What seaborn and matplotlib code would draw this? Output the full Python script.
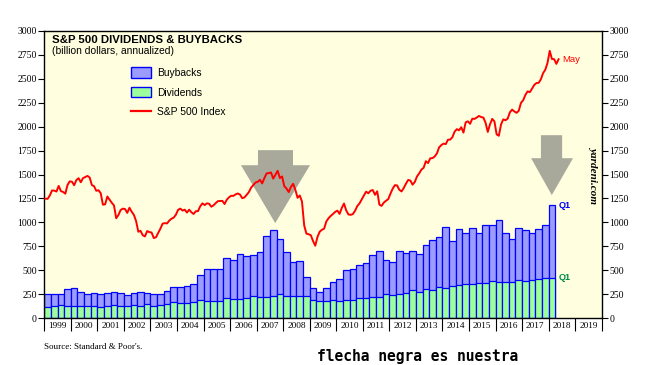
import numpy as np
import pandas as pd
import matplotlib
matplotlib.use("Agg")
import matplotlib.pyplot as plt
import seaborn as sns
from matplotlib.patches import Polygon, Patch
from matplotlib.lines import Line2D

# ---------------- data ----------------
first_year = 1999
# quarterly, 1999Q1 .. 2018Q1 (billion dollars, annualized)
dividends = [
    118, 128, 139, 128,   # 1999
    128, 128, 128, 128,   # 2000
    118, 128, 139, 128,   # 2001
    128, 139, 128, 149,   # 2002
    128, 139, 149, 170,   # 2003
    160, 160, 170, 191,   # 2004
    181, 181, 181, 212,   # 2005
    201, 201, 212, 233,   # 2006
    222, 222, 233, 253,   # 2007
    233, 233, 233, 233,   # 2008
    191, 181, 181, 191,   # 2009
    181, 194, 194, 212,   # 2010
    212, 222, 222, 253,   # 2011
    243, 253, 264, 295,   # 2012
    274, 306, 295, 326,   # 2013
    316, 337, 347, 358,   # 2014
    358, 368, 368, 389,   # 2015
    378, 378, 378, 399,   # 2016
    389, 399, 410, 420,   # 2017
    420,                  # 2018Q1
]
buybacks = [
    135, 125, 114, 181,   # 1999
    191, 146, 125, 136,   # 2000
    135, 136, 135, 136,   # 2001
    115, 125, 146, 115,   # 2002
    125, 114, 136, 156,   # 2003
    166, 177, 188, 260,   # 2004
    333, 333, 333, 420,   # 2005
    410, 473, 437, 430,   # 2006
    472, 639, 691, 577,   # 2007
    461, 357, 368, 198,   # 2008
    125, 93, 135, 187,    # 2009
    232, 313, 323, 344,   # 2010
    368, 438, 479, 358,   # 2011
    347, 448, 420, 406,   # 2012
    400, 461, 524, 525,   # 2013
    639, 472, 587, 534,   # 2014
    586, 524, 608, 587,   # 2015
    650, 514, 452, 545,   # 2016
    535, 493, 524, 556,   # 2017
    764,                  # 2018Q1
]
# S&P 500 index, monthly, Jan 1999 .. May 2018
sp500 = [
    1248, 1246, 1282, 1334, 1332, 1322, 1381, 1327, 1318, 1300, 1391, 1428,
    1425, 1388, 1442, 1461, 1419, 1462, 1473, 1485, 1469, 1390, 1378, 1330,
    1336, 1305, 1185, 1189, 1270, 1238, 1205, 1178, 1044, 1077, 1129, 1144,
    1140, 1100, 1153, 1112, 1079, 1014, 903, 912, 867, 854, 910, 899,
    895, 837, 846, 890, 936, 988, 992, 990, 1019, 1039, 1050, 1081,
    1132, 1144, 1124, 1133, 1103, 1133, 1106, 1088, 1117, 1118, 1169, 1199,
    1181, 1199, 1195, 1164, 1178, 1202, 1222, 1224, 1225, 1192, 1237, 1262,
    1278, 1277, 1293, 1302, 1290, 1253, 1261, 1288, 1317, 1363, 1389, 1416,
    1424, 1444, 1407, 1463, 1511, 1515, 1521, 1457, 1497, 1539, 1463, 1479,
    1378, 1354, 1317, 1371, 1403, 1341, 1257, 1281, 1217, 968, 883, 877,
    866, 806, 757, 848, 903, 923, 935, 1009, 1044, 1068, 1088, 1110,
    1123, 1089, 1152, 1197, 1125, 1083, 1079, 1087, 1122, 1171, 1198, 1241,
    1282, 1321, 1304, 1331, 1338, 1288, 1325, 1185, 1173, 1207, 1226, 1243,
    1300, 1352, 1389, 1386, 1341, 1323, 1359, 1404, 1443, 1437, 1394, 1422,
    1480, 1512, 1551, 1570, 1639, 1619, 1669, 1671, 1688, 1720, 1783, 1807,
    1822, 1817, 1863, 1864, 1889, 1947, 1973, 1961, 1993, 1937, 2044, 2055,
    2029, 2082, 2080, 2094, 2111, 2099, 2094, 2039, 1944, 2024, 2080, 2054,
    1919, 1904, 2022, 2075, 2066, 2083, 2149, 2177, 2158, 2143, 2165, 2247,
    2275, 2330, 2367, 2359, 2395, 2434, 2454, 2456, 2493, 2557, 2593, 2664,
    2790, 2705, 2703, 2654, 2702,
]
year_labels = [str(y) for y in range(1999, 2020)]
y_ticks = list(range(0, 3001, 250))

# decorative arrows: (shaft_left, shaft_right, shaft_top, head_left, head_right, head_base, tip_x, tip_y)
arrow_1 = (2007.05, 2008.37, 1754, 2006.41, 2009.01, 1597, 2007.70, 993)
arrow_2 = (2017.71, 2018.51, 1910, 2017.34, 2018.92, 1670, 2018.12, 1285)

# ---------------- figure ----------------
plt.rcParams["font.family"] = ["Liberation Sans", "DejaVu Sans"]

BUY_C = "#9C9CFF"
DIV_C = "#9CFF9C"
EDGE_C = "#0000FF"
BG_C = "#FFFFE0"

fig = plt.figure(figsize=(6.45, 3.65), dpi=100)
ax = fig.add_axes([44.3 / 645, 1 - 318.3 / 365, (601.7 - 44.3) / 645, (318.3 - 30.7) / 365])
ax.set_facecolor(BG_C)

n = len(dividends)
xpos = [first_year + i * 0.25 + 0.125 for i in range(n)]
df = pd.DataFrame({
    "x": xpos,
    "dividends": dividends,
    "total": np.array(dividends) + np.array(buybacks),
})

sns.barplot(data=df, x="x", y="total", native_scale=True, width=1, color=BUY_C,
            saturation=1, edgecolor=EDGE_C, linewidth=0.9, errorbar=None, ax=ax, zorder=2)
sns.barplot(data=df, x="x", y="dividends", native_scale=True, width=1, color=DIV_C,
            saturation=1, edgecolor=EDGE_C, linewidth=0.9, errorbar=None, ax=ax, zorder=2)

sp_df = pd.DataFrame({
    "x": [first_year + (i + 0.5) / 12 for i in range(len(sp500))],
    "sp": sp500,
})
sns.lineplot(data=sp_df, x="x", y="sp", color="#FF0000", linewidth=1.4, ax=ax, zorder=4)

for a in (arrow_1, arrow_2):
    sl, sr, st, hl, hr, hb, tx, ty = a
    poly = Polygon([(sl, st), (sr, st), (sr, hb), (hr, hb), (tx, ty), (hl, hb), (sl, hb)],
                   closed=True, facecolor="#A9A99B", edgecolor="none", zorder=3)
    ax.add_patch(poly)

ax.set_xlim(1999, 2020)
ax.set_ylim(0, 3000)
ax.set_xlabel("")
ax.set_ylabel("")

ax.set_xticks(np.arange(1999, 2021))
ax.set_xticklabels([])
ax.set_xticks(np.arange(1999, 2020) + 0.5, minor=True)
ax.set_xticklabels(year_labels, minor=True)
ax.tick_params(axis="x", which="major", length=9, width=0.8, direction="out", color="black")
ax.tick_params(axis="x", which="minor", length=0, pad=2.5, labelsize=6.7,
               labelfontfamily="Liberation Serif")

ax.set_yticks(y_ticks)
ax.set_yticklabels([str(v) for v in y_ticks])
ax.tick_params(axis="y", left=True, right=True, labelleft=True, labelright=True,
               length=4, width=0.8, direction="out", pad=1.5, labelsize=7,
               labelfontfamily="Liberation Serif", color="black")

for s in ax.spines.values():
    s.set_color("black")
    s.set_linewidth(1.0)

handles = [
    Patch(facecolor=BUY_C, edgecolor=EDGE_C, label="Buybacks"),
    Patch(facecolor=DIV_C, edgecolor=EDGE_C, label="Dividends"),
    Line2D([], [], color="#FF0000", linewidth=1.6, label="S&P 500 Index"),
]
ax.legend(handles=handles, loc="upper left", bbox_to_anchor=(131 / 645, 1 - 67 / 365),
          bbox_transform=fig.transFigure, frameon=False, fontsize=7.4,
          handlelength=1.95, handleheight=1.2, handletextpad=0.55,
          labelspacing=0.88, borderpad=0, borderaxespad=0)

fig.text(51.7 / 645, 1 - 42.7 / 365, "S&P 500 DIVIDENDS & BUYBACKS",
         fontsize=8.2, fontweight="bold", va="baseline", ha="left")
fig.text(52.3 / 645, 1 - 54.3 / 365, "(billion dollars, annualized)",
         fontsize=7.4, va="baseline", ha="left")

fig.text(594 / 645, 1 - 175 / 365, "yardeni.com", rotation=-90, ha="center", va="center",
         fontfamily="Liberation Serif", fontstyle="italic", fontweight="bold", fontsize=8)

ax.text(2018.53, 2702, "May", color="#FF0000", fontsize=6.8, va="center", ha="left")
ax.text(2018.38, 1181, "Q1", color="#0000FF", fontsize=6.5, fontweight="bold",
        va="center", ha="left")
ax.text(2018.38, 427, "Q1", color="#00894A", fontsize=6.5, fontweight="bold",
        va="center", ha="left")

fig.text(44 / 645, 1 - 347 / 365, "Source: Standard & Poor's.",
         fontfamily="Liberation Serif", fontsize=6.5, va="center", ha="left")
fig.text(317 / 645, 1 - 357 / 365, "flecha negra es nuestra",
         fontfamily="DejaVu Sans Mono", fontweight="bold", fontsize=10.5,
         va="center", ha="left")

fig.savefig("out.png", dpi=100, facecolor="white")
